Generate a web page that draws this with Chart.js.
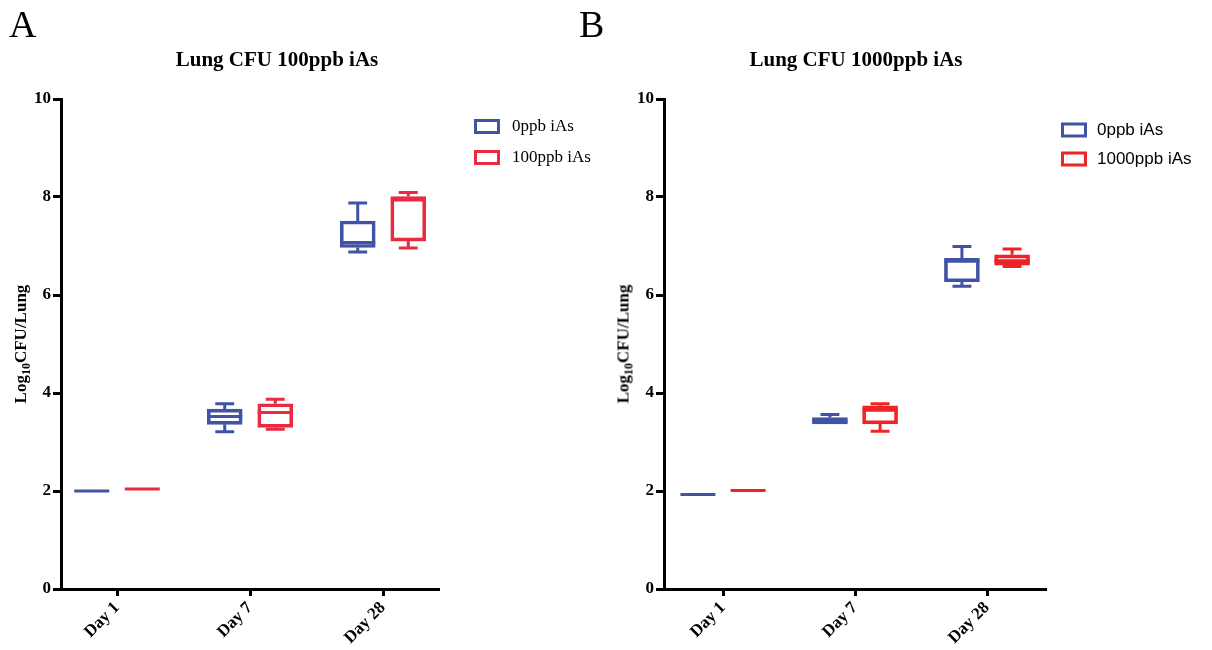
<!DOCTYPE html>
<html><head><meta charset="utf-8">
<script src="https://cdn.jsdelivr.net/npm/chart.js@4.4.1/dist/chart.umd.min.js"></script>
<style>
html,body{margin:0;padding:0;background:#fff;}
#wrap{position:relative;width:1212px;height:650px;overflow:hidden;background:#fff;}
.panel{position:absolute;top:0;height:650px;}
.letter{position:absolute;font-family:"Liberation Serif","Times New Roman",serif;font-size:38px;line-height:1;color:#000;}
.title{position:absolute;font-family:"Liberation Serif","Times New Roman",serif;font-weight:bold;font-size:21px;line-height:1;white-space:nowrap;transform:translateX(-50%);color:#000;}
.ytitle{position:absolute;font-family:"Liberation Serif","Times New Roman",serif;font-weight:bold;font-size:17px;line-height:1;white-space:nowrap;transform:translate(-50%,-50%) rotate(-90deg);color:#000;}
.ytitle sub{font-size:12px;vertical-align:-4px;line-height:0;}
</style></head>
<body>
<div id="wrap">
  <div class="panel" style="left:0;width:600px"><canvas id="cA"></canvas></div>
  <div class="panel" style="left:600px;width:612px"><canvas id="cB"></canvas></div>
  <div class="letter" style="left:9px;top:5px">A</div>
  <div class="letter" style="left:579px;top:5px">B</div>
  <div class="title" style="left:277px;top:49px">Lung CFU 100ppb iAs</div>
  <div class="title" style="left:856px;top:49px">Lung CFU 1000ppb iAs</div>
  <div class="ytitle" style="left:20px;top:344px">Log<sub>10</sub>CFU/Lung</div>
  <div class="ytitle" style="left:623px;top:344px">Log<sub>10</sub>CFU/Lung</div>
</div>
<script>
// ---- data ----
const categories = ['Day 1', 'Day 7', 'Day 28'];
const yTicks = [0, 2, 4, 6, 8, 10];

// Panel A: 0ppb vs 100ppb iAs
const seriesA = ['0ppb iAs', '100ppb iAs'];
const a0_min = [2.00, 3.21, 6.88];
const a0_q1  = [2.00, 3.36, 6.97];
const a0_med = [2.00, 3.52, 7.07];
const a0_q3  = [2.00, 3.67, 7.51];
const a0_max = [2.00, 3.78, 7.88];
const a1_min = [2.04, 3.26, 6.96];
const a1_q1  = [2.04, 3.30, 7.10];
const a1_med = [2.04, 3.60, 7.94];
const a1_q3  = [2.04, 3.78, 8.01];
const a1_max = [2.04, 3.87, 8.09];

// Panel B: 0ppb vs 1000ppb iAs
const seriesB = ['0ppb iAs', '1000ppb iAs'];
const b0_min = [1.93, 3.37, 6.18];
const b0_q1  = [1.93, 3.37, 6.27];
const b0_med = [1.93, 3.43, 6.69];
const b0_q3  = [1.93, 3.50, 6.75];
const b0_max = [1.93, 3.56, 6.99];
const b1_min = [2.01, 3.22, 6.58];
const b1_q1  = [2.01, 3.37, 6.61];
const b1_med = [2.01, 3.65, 6.70];
const b1_q3  = [2.01, 3.74, 6.82];
const b1_max = [2.01, 3.78, 6.94];

// ---- styling ----
const BLUE = '#4053A5';
const RED_A = '#EA2A40';
const RED_B = '#EE2326';
const SERIF = '"Liberation Serif", "Times New Roman", serif';
const SANS = '"Liberation Sans", Arial, sans-serif';

function boxDataset(label, color, offset, q1, q3, med, mn, mx) {
  return {
    label: label,
    data: categories.map((c, i) => ({ x: i + 1 + offset, y: [q1[i], q3[i]] })),
    medians: med, mins: mn, maxs: mx,
    backgroundColor: 'rgba(255,255,255,0)',
    borderColor: color,
    borderWidth: 3,
    borderSkipped: false,
    barThickness: 35,
    grouped: false
  };
}

const boxWhiskerPlugin = {
  id: 'boxWhisker',
  afterDatasetsDraw(chart) {
    const ctx = chart.ctx;
    const ys = chart.scales.y;
    chart.data.datasets.forEach((ds, di) => {
      const meta = chart.getDatasetMeta(di);
      ctx.save();
      ctx.strokeStyle = ds.borderColor;
      ctx.lineWidth = 3;
      ctx.lineCap = 'butt';
      meta.data.forEach((el, i) => {
        const cx = el.x, w = el.width, cap = w * 0.54;
        const q3 = ds.data[i].y[1], q1 = ds.data[i].y[0];
        const pQ1 = ys.getPixelForValue(q1), pQ3 = ys.getPixelForValue(q3);
        const pMed = ys.getPixelForValue(ds.medians[i]);
        const pMin = ys.getPixelForValue(ds.mins[i]);
        const pMax = ys.getPixelForValue(ds.maxs[i]);
        ctx.beginPath();
        ctx.moveTo(cx - w / 2, pMed); ctx.lineTo(cx + w / 2, pMed);
        if (ds.maxs[i] > q3) {
          ctx.moveTo(cx, pQ3); ctx.lineTo(cx, pMax);
          ctx.moveTo(cx - cap / 2, pMax); ctx.lineTo(cx + cap / 2, pMax);
        }
        if (ds.mins[i] < q1) {
          ctx.moveTo(cx, pQ1); ctx.lineTo(cx, pMin);
          ctx.moveTo(cx - cap / 2, pMin); ctx.lineTo(cx + cap / 2, pMin);
        }
        ctx.stroke();
      });
      ctx.restore();
    });
  }
};

const legendPlugin = {
  id: 'boxLegend',
  afterDraw(chart, args, o) {
    const ctx = chart.ctx;
    chart.data.datasets.forEach((ds, i) => {
      const cy = o.y + i * o.spacing;
      ctx.save();
      ctx.strokeStyle = ds.borderColor;
      ctx.lineWidth = 3;
      ctx.strokeRect(o.x + 1.5, cy - o.boxH / 2, o.boxW - 3, o.boxH);
      ctx.fillStyle = '#000';
      ctx.font = o.font;
      ctx.textBaseline = 'middle';
      ctx.textAlign = 'left';
      ctx.fillText(ds.label, o.textX, cy);
      ctx.restore();
    });
  }
};

function makeChart(id, datasets, cfg) {
  return new Chart(document.getElementById(id), {
    type: 'bar',
    data: { datasets: datasets },
    plugins: [boxWhiskerPlugin, legendPlugin],
    options: {
      responsive: true,
      maintainAspectRatio: false,
      animation: false,
      layout: { padding: { left: 0, right: cfg.padRight, top: 99, bottom: 0 } },
      plugins: {
        legend: { display: false },
        tooltip: { enabled: false },
        title: { display: false },
        boxLegend: cfg.legend
      },
      scales: {
        x: {
          type: 'linear',
          offset: false,
          min: cfg.xMin, max: cfg.xMax,
          afterBuildTicks: s => { s.ticks = categories.map((c, i) => ({ value: i + 1 })); },
          afterFit: s => { s.height = 61; },
          ticks: {
            callback: v => categories[Math.round(v) - 1],
            minRotation: 45, maxRotation: 45, autoSkip: false,
            padding: 2,
            color: '#000',
            font: { family: SERIF, weight: 'bold', size: 17 }
          },
          grid: { display: true, offset: false, drawOnChartArea: false, drawTicks: true,
                  tickLength: 7, tickWidth: 3, tickColor: '#000', color: '#000' },
          border: { display: true, width: 3, color: '#000' }
        },
        y: {
          type: 'linear',
          min: 0, max: 10,
          afterBuildTicks: s => { s.ticks = yTicks.map(v => ({ value: v })); },
          afterFit: s => { s.width = cfg.yWidth; },
          ticks: {
            padding: 2,
            color: '#000',
            font: { family: SERIF, weight: 'bold', size: 17 }
          },
          grid: { display: true, drawOnChartArea: false, drawTicks: true,
                  tickLength: 8, tickWidth: 3, tickColor: '#000', color: '#000' },
          border: { display: true, width: 3, color: '#000' }
        }
      }
    }
  });
}

const OFF = 0.19;
makeChart('cA', [
  boxDataset(seriesA[0], BLUE, -OFF, a0_q1, a0_q3, a0_med, a0_min, a0_max),
  boxDataset(seriesA[1], RED_A, OFF, a1_q1, a1_q3, a1_med, a1_min, a1_max)
], {
  padRight: 161, yWidth: 61, xMin: 1 - 56 / 133, xMax: 3 + 56 / 133,
  legend: { x: 474, y: 126.5, spacing: 31, boxW: 26, boxH: 12, textX: 512,
            font: '17px ' + SERIF }
});
makeChart('cB', [
  boxDataset(seriesB[0], BLUE, -OFF, b0_q1, b0_q3, b0_med, b0_min, b0_max),
  boxDataset(seriesB[1], RED_B, OFF, b1_q1, b1_q3, b1_med, b1_min, b1_max)
], {
  padRight: 166, yWidth: 64, xMin: 1 - 59 / 132, xMax: 3 + 59 / 132,
  legend: { x: 461, y: 130, spacing: 29, boxW: 26, boxH: 12, textX: 497,
            font: '17px ' + SANS }
});
</script>
</body></html>
